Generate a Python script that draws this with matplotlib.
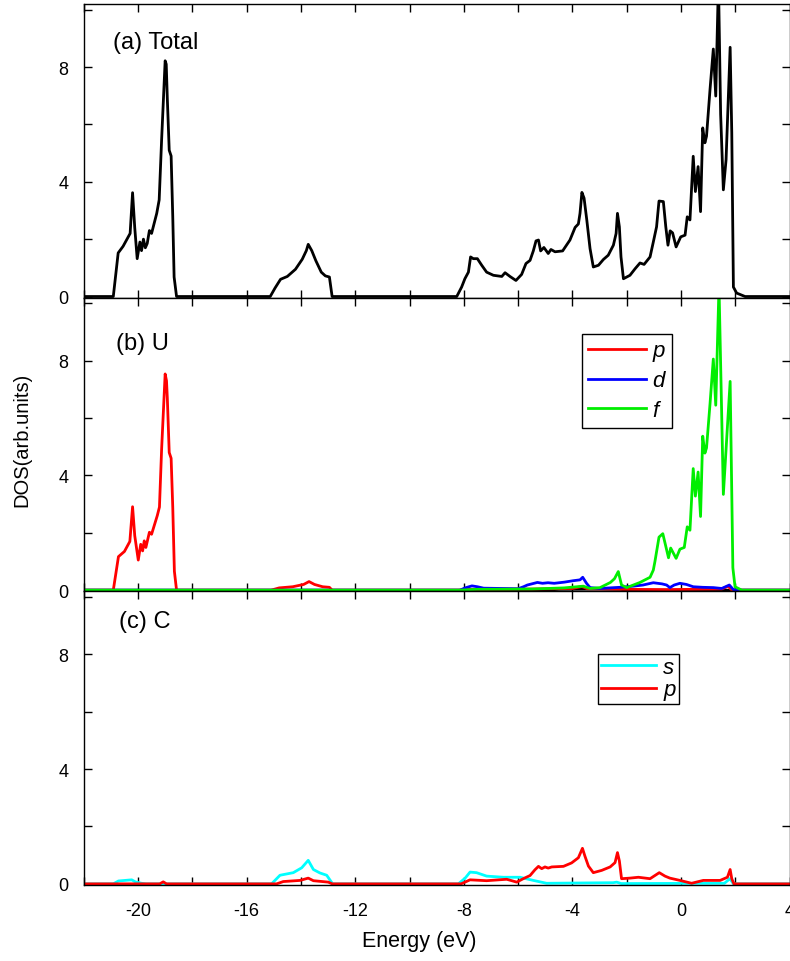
import matplotlib
matplotlib.use("Agg")
import matplotlib.pyplot as plt
from matplotlib.ticker import MultipleLocator, FixedLocator
import numpy as np

plt.rcParams['font.family'] = ['Liberation Sans', 'DejaVu Sans']
plt.rcParams['axes.unicode_minus'] = False

# ---------------- data ----------------
# (a) Total DOS
total_E = [-22, -20.91, -20.73, -20.55, -20.29, -20.20, -20.12, -20.03, -19.93, -19.87, -19.80,
           -19.73, -19.66, -19.58, -19.50, -19.31, -19.22, -19.13, -19.00, -18.96, -18.92, -18.85,
           -18.78, -18.72, -18.67, -18.58,
           -15.13, -14.95, -14.75, -14.5, -14.2, -13.95, -13.8, -13.73, -13.6, -13.45, -13.25,
           -13.1, -12.95, -12.85,
           -8.26, -8.08, -7.96, -7.83, -7.75, -7.65, -7.50, -7.34, -7.16, -6.91, -6.60, -6.48,
           -6.30, -6.08, -5.87, -5.71, -5.56, -5.44, -5.34, -5.25, -5.17, -5.05, -4.89, -4.79,
           -4.64, -4.36, -4.09, -3.90, -3.78, -3.72, -3.65, -3.57, -3.47, -3.35, -3.23, -3.04,
           -2.86, -2.68, -2.49, -2.39, -2.34, -2.27, -2.21, -2.12, -1.88, -1.69, -1.51, -1.36,
           -1.14, -1.02, -0.90, -0.81, -0.65, -0.56, -0.48, -0.40, -0.31, -0.18, -0.01, 0.15,
           0.23, 0.33, 0.45, 0.53, 0.63, 0.72, 0.80, 0.88, 0.94, 1.07, 1.19, 1.28, 1.38, 1.46,
           1.56, 1.66, 1.81, 1.87, 1.93, 2.05, 2.36, 4]
total_dos = [0, 0, 1.52, 1.75, 2.2, 3.62, 2.4, 1.32, 1.9, 1.6, 2.0,
             1.7, 1.85, 2.3, 2.2, 2.9, 3.37, 5.47, 8.22, 8.1, 6.9, 5.1,
             4.9, 2.8, 0.68, 0,
             0, 0.3, 0.6, 0.7, 0.95, 1.3, 1.6, 1.82, 1.6, 1.25, 0.85,
             0.72, 0.68, 0,
             0, 0.33, 0.62, 0.85, 1.38, 1.32, 1.32, 1.09, 0.85, 0.74, 0.70, 0.83,
             0.70, 0.56, 0.77, 1.15, 1.26, 1.59, 1.94, 1.97, 1.59, 1.71, 1.50, 1.64,
             1.56, 1.59, 1.97, 2.41, 2.53, 2.90, 3.63, 3.43, 2.67, 1.67, 1.03, 1.09,
             1.29, 1.44, 1.79, 2.20, 2.90, 2.43, 1.38, 0.62, 0.74, 0.97, 1.17, 1.12,
             1.38, 1.90, 2.43, 3.33, 3.31, 2.43, 1.79, 2.29, 2.22, 1.73, 2.08, 2.14,
             2.78, 2.67, 4.89, 3.66, 4.53, 2.96, 5.88, 5.36, 5.59, 7.23, 8.63, 6.99, 11.0, 6.35,
             3.72, 4.77, 8.69, 5.71, 0.33, 0.12, 0, 0]

# (b) U projected DOS
u_p_E = [-22, -20.91, -20.72, -20.5, -20.3, -20.20, -20.12, -19.99, -19.90, -19.83, -19.77,
         -19.71, -19.58, -19.50, -19.29, -19.21, -19.13, -19.00, -18.95, -18.92, -18.85,
         -18.78, -18.72, -18.66, -18.58,
         -15.1, -14.8, -14.3, -13.9, -13.7, -13.5, -13.2, -12.95, -12.85,
         -8.2, -7.7, -5.5, -4.0, -3.65, -3.45, -2.2, -0.5, 1.5, 1.74, 1.85, 2.0, 4]
u_p = [0, 0, 1.17, 1.35, 1.7, 2.91, 1.9, 1.05, 1.6, 1.37, 1.72,
       1.49, 2.02, 1.95, 2.6, 2.9, 4.92, 7.54, 7.3, 6.7, 4.8,
       4.6, 2.9, 0.66, 0,
       0, 0.08, 0.12, 0.2, 0.3, 0.2, 0.12, 0.1, 0,
       0, 0.03, 0.04, 0.06, 0.13, 0.05, 0.03, 0.02, 0.04, 0.14, 0.02, 0, 0]

u_d_E = [-22, -8.14, -7.95, -7.7, -7.5, -7.27, -6.0, -5.8, -5.66, -5.29, -5.1, -4.9, -4.67,
         -4.3, -3.97, -3.72, -3.62, -3.48, -3.35, -3.0, -2.25, -1.76, -1.4, -1.02, -0.7,
         -0.53, -0.41, -0.25, -0.04, 0.2, 0.45, 0.8, 1.19, 1.5, 1.78, 1.93, 2.1, 4]
u_d = [0, 0, 0.08, 0.15, 0.12, 0.07, 0.05, 0.12, 0.18, 0.27, 0.24, 0.26, 0.24,
       0.28, 0.33, 0.36, 0.45, 0.24, 0.09, 0.06, 0.1, 0.14, 0.18, 0.26, 0.22,
       0.18, 0.09, 0.18, 0.24, 0.2, 0.12, 0.1, 0.09, 0.06, 0.18, 0.02, 0, 0]

u_f_E = [-22, -8.2, -7.5, -5.5, -4.3, -3.6, -3.35, -2.98, -2.6, -2.45, -2.31, -2.19, -2.0,
         -1.51, -1.14, -1.02, -0.96, -0.81, -0.67, -0.46, -0.38, -0.18, -0.04, 0.12, 0.23,
         0.33, 0.45, 0.53, 0.63, 0.72, 0.80, 0.88, 0.94, 1.07, 1.19, 1.28, 1.40, 1.56, 1.81,
         1.91, 1.99, 2.24, 4]
u_f = [0, 0, 0.03, 0.04, 0.08, 0.14, 0.06, 0.09, 0.27, 0.4, 0.65, 0.18, 0.09,
       0.27, 0.45, 0.7, 1.0, 1.85, 1.97, 1.13, 1.47, 1.11, 1.43, 1.49, 2.21,
       2.09, 4.24, 3.28, 4.12, 2.57, 5.37, 4.78, 4.96, 6.51, 8.06, 6.45, 10.6, 3.34, 7.28,
       0.78, 0.12, 0, 0]

u_s_E = [-22, -5.0, -4.5, -3.0, -2.2, -2.1, 4]
u_s = [0, 0, 0.03, 0.04, 0.03, 0, 0]

# (c) C projected DOS
c_s_E = [-22, -20.91, -20.72, -20.23, -20.1, -19.87, -19.7,
         -15.08, -14.77, -14.28, -13.97, -13.73, -13.54, -13.3, -13.05, -12.83,
         -8.2, -7.95, -7.77, -7.53, -7.16, -6.54, -5.93, -5.44, -4.95, -2.5, -2.37, -2.2,
         1.6, 1.8, 1.93, 4]
c_s = [0, 0, 0.1, 0.14, 0.07, 0.02, 0,
       0, 0.3, 0.39, 0.56, 0.82, 0.5, 0.38, 0.3, 0,
       0, 0.2, 0.41, 0.39, 0.27, 0.23, 0.23, 0.12, 0.02, 0.04, 0.06, 0.01,
       0.02, 0.18, 0, 0]

c_p_E = [-22, -19.2, -19.07, -18.95, -14.89, -14.65, -14.03, -13.73, -13.54, -12.99, -12.85,
         -8.1, -7.77, -7.16, -6.42, -6.05, -5.81, -5.56, -5.38, -5.25, -5.13, -5.01, -4.89,
         -4.76, -4.33, -4.03, -3.78, -3.63, -3.54, -3.41, -3.23, -2.92, -2.61, -2.43, -2.34,
         -2.27, -2.19, -1.88, -1.57, -1.14, -0.8, -0.59, -0.41, -0.04, 0.39, 0.82, 1.44,
         1.71, 1.81, 1.87, 1.95, 4]
c_p = [0, 0, 0.07, 0, 0, 0.08, 0.12, 0.2, 0.11, 0.06, 0,
       0, 0.14, 0.11, 0.16, 0.06, 0.18, 0.29, 0.49, 0.61, 0.53, 0.59, 0.55,
       0.59, 0.61, 0.73, 0.91, 1.24, 0.97, 0.62, 0.39, 0.47, 0.59, 0.74, 1.09,
       0.8, 0.18, 0.2, 0.23, 0.18, 0.39, 0.27, 0.2, 0.12, 0.02, 0.12, 0.12,
       0.23, 0.5, 0.18, 0, 0]

y_ticks = [0, 4, 8]
x_ticks = [-20, -16, -12, -8, -4, 0, 4]
panel_labels = ['(a) Total', '(b) U', '(c) C']

# ---------------- figure ----------------
W, H = 790, 962
fig = plt.figure(figsize=(W / 100, H / 100), dpi=100)

left_px, right_px = 83.7, 789.6
top_px, bot_px = 5, 886
ph = (bot_px - top_px) / 3.0
axes = []
for i in range(3):
    top_i = top_px + i * ph
    ax = fig.add_axes([left_px / W, 1 - (top_i + ph) / H, (right_px - left_px) / W, ph / H])
    axes.append(ax)

lw = 2.0
axes[0].plot(total_E, total_dos, color='black', lw=lw)

axes[1].plot(u_s_E, u_s, color='black', lw=lw)
axes[1].plot(u_p_E, u_p, color='#ff0000', lw=lw, label='p')
axes[1].plot(u_d_E, u_d, color='#0000ff', lw=lw, label='d')
axes[1].plot(u_f_E, u_f, color='#00ee00', lw=lw, label='f')

axes[2].plot(c_s_E, c_s, color='#00ffff', lw=lw, label='s')
axes[2].plot(c_p_E, c_p, color='#ff0000', lw=lw, label='p')

label_pos = [(0.041, 0.87), (0.046, 0.846), (0.05, 0.898)]
for i, ax in enumerate(axes):
    ax.set_xlim(-22, 4)
    ax.set_ylim(-0.04, 10.2)
    ax.xaxis.set_major_locator(FixedLocator(x_ticks))
    ax.xaxis.set_minor_locator(MultipleLocator(2))
    ax.yaxis.set_major_locator(FixedLocator(y_ticks))
    ax.yaxis.set_minor_locator(MultipleLocator(2))
    ax.tick_params(which='both', direction='in', top=True, right=True, length=6, width=1,
                   labelsize=13)
    ax.tick_params(axis='y', pad=11)
    ax.tick_params(axis='x', pad=12)
    if i < 2:
        ax.tick_params(axis='x', labelbottom=False)
    for s in ax.spines.values():
        s.set_linewidth(1.0)
    ax.text(label_pos[i][0], label_pos[i][1], panel_labels[i], transform=ax.transAxes,
            fontsize=17, ha='left', va='center')

leg_kw = dict(frameon=True, fancybox=False, framealpha=1, edgecolor='black',
              prop={'style': 'italic', 'size': 16}, handletextpad=0.3,
              borderaxespad=0)
lg1 = axes[1].legend(loc='upper right', bbox_to_anchor=(0.833, 0.877), handlelength=2.6,
                     borderpad=0.3, labelspacing=0.4, **leg_kw)
lg1.get_frame().set_linewidth(1.0)
lg2 = axes[2].legend(loc='upper right', bbox_to_anchor=(0.843, 0.787), handlelength=2.5,
                     borderpad=0.15, labelspacing=0.05, **leg_kw)
lg2.get_frame().set_linewidth(1.0)

fig.text(22 / W, 1 - 440 / H, 'DOS(arb.units)', rotation=90, ha='center', va='center',
         fontsize=14.5)
fig.text(419 / W, 1 - 942 / H, 'Energy (eV)', ha='center', va='center', fontsize=15.5)

fig.savefig('out.png', dpi=100)
